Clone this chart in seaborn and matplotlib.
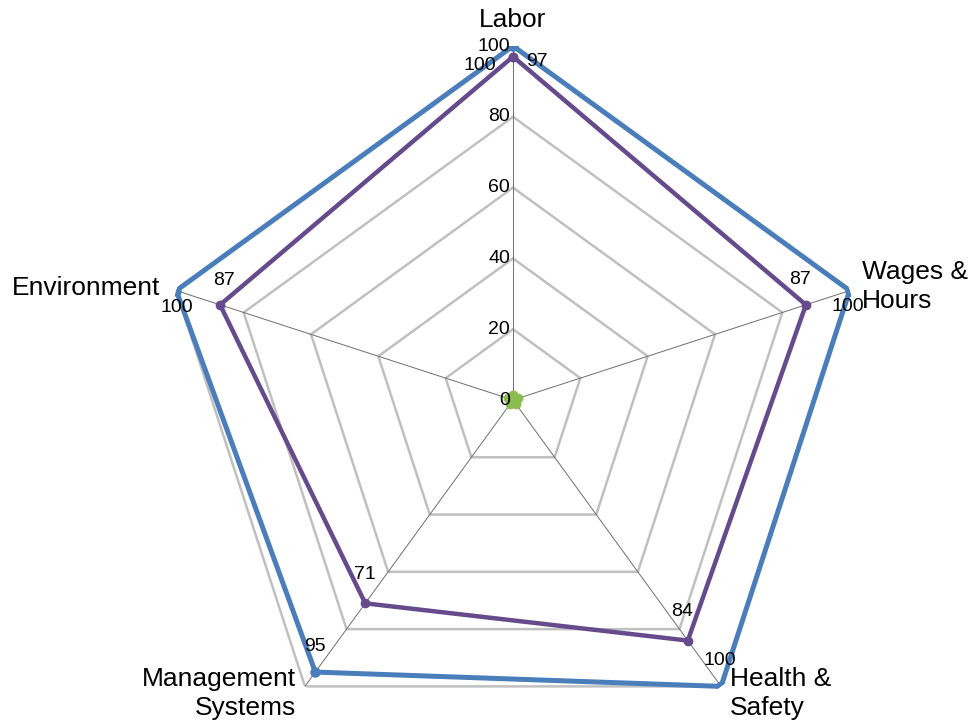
import numpy as np
import matplotlib
matplotlib.use("Agg")
import matplotlib.pyplot as plt
import seaborn as sns

categories = ["Labor", "Wages &\nHours", "Health &\nSafety", "Management\nSystems", "Environment"]
series_blue = [100, 100, 100, 95, 100]
series_purple = [97, 87, 84, 71, 87]
series_green = [1.5, 1.5, 1.5, 1.5, 1.5]
grid_levels = [0, 20, 40, 60, 80, 100]

sns.set_theme(style="white")
plt.rcParams['font.family'] = ['Liberation Sans', 'DejaVu Sans']

fig = plt.figure(figsize=(9.73, 7.26), dpi=100)
W, H = 973, 726
cx, cy, R = 513, 400, 354
ax = fig.add_axes([(cx - R) / W, (H - cy - R) / H, 2 * R / W, 2 * R / H], projection='polar')
ax.set_theta_offset(np.pi / 2)
ax.set_theta_direction(-1)
ax.set_ylim(0, 100)
ax.grid(False)
ax.spines['polar'].set_visible(False)
ax.set_xticks([])
ax.set_yticks([])
ax.patch.set_alpha(0)

n = len(categories)
theta = np.linspace(0, 2 * np.pi, n, endpoint=False)
theta_c = np.append(theta, 2 * np.pi)

# polygon gridlines
for lv in grid_levels[1:]:
    ax.plot(theta_c, [lv] * (n + 1), color='#c0c0c0', lw=1.8, zorder=1)
# spokes
for t in theta:
    ax.plot([t, t], [0, 100], color='#6e6e6e', lw=0.7, zorder=2)

def draw(vals, color, lw, ms, fill=False):
    v = np.append(vals, vals[0])
    sns.lineplot(x=theta_c, y=v, sort=False, estimator=None, color=color, lw=lw,
                 marker='o', markersize=ms, markeredgewidth=0, ax=ax, zorder=3)
    if fill:
        ax.fill(theta_c, v, color=color, zorder=3)

draw(series_blue, '#4a7ebb', 3.6, 7.5)
draw(series_purple, '#654a8c', 3.2, 7)
draw(series_green, '#8cbc4f', 3.0, 7, fill=True)
ax.set_xlabel('')
ax.set_ylabel('')

# tick labels along Labor axis
for lv in grid_levels:
    ax.annotate(str(lv), xy=(0, lv), xytext=(-3, 0), textcoords='offset pixels',
                ha='right', va='center', fontsize=14, color='black', zorder=5)

# category labels
cat_offsets = [(0, 26, 'center', 'center'), (12, 4, 'left', 'left'), (9, -7, 'left', 'left'),
               (-9, -7, 'right', 'right'), (-16, 3, 'right', 'right')]
for t, lab, (dx, dy, ha, ma) in zip(theta, categories, cat_offsets):
    ax.annotate(lab, xy=(t, 100), xytext=(dx, dy), textcoords='offset pixels',
                ha=ha, va='center', multialignment=ma, fontsize=19, color='black',
                linespacing=1.25, annotation_clip=False)

# data labels
blue_off = [(-33, -19), (-2, -16), (-1, 26), (0, 26), (0, -17)]
purple_off = [(24, -5), (-6, 25), (-6, 29), (0, 29), (4, 24)]
for t, v, (dx, dy) in zip(theta, series_blue, blue_off):
    ax.annotate(str(v), xy=(t, v), xytext=(dx, dy), textcoords='offset pixels',
                ha='center', va='center', fontsize=14, color='black', zorder=6,
                annotation_clip=False)
for t, v, (dx, dy) in zip(theta, series_purple, purple_off):
    ax.annotate(str(v), xy=(t, v), xytext=(dx, dy), textcoords='offset pixels',
                ha='center', va='center', fontsize=14, color='black', zorder=6,
                annotation_clip=False)

fig.savefig("out.png", dpi=100)
